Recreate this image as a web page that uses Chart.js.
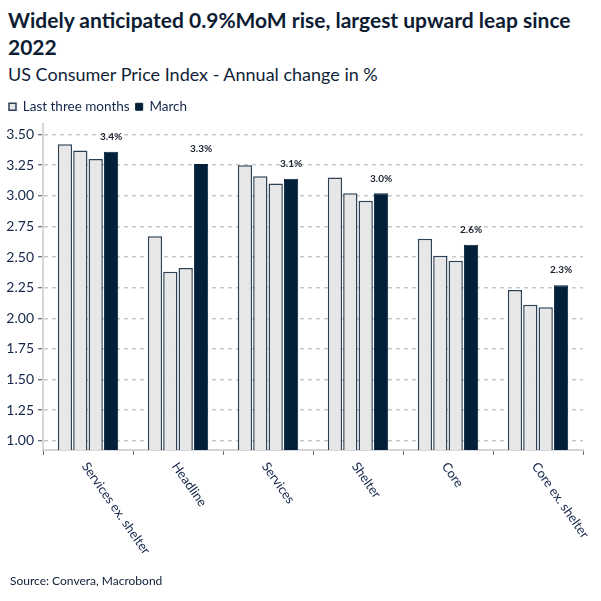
<!DOCTYPE html>
<html><head><meta charset="utf-8">
<script src="https://cdn.jsdelivr.net/npm/chart.js@4"></script>
<style>
html,body{margin:0;padding:0;background:#fff;}
body{width:601px;height:601px;position:relative;overflow:hidden;font-family:Lato,"Noto Sans",sans-serif;color:#0f1f38;}
#title{position:absolute;left:8px;top:7px;font-size:21px;font-weight:700;line-height:26.7px;white-space:nowrap;color:#0d1c33;}
#subtitle{position:absolute;left:8px;top:64px;font-size:18px;line-height:21.6px;white-space:nowrap;color:#0f1f38;}
#source{position:absolute;left:10px;top:573px;font-size:12px;line-height:15px;color:#0f1f38;white-space:nowrap;}
#wrap{position:absolute;left:0;top:93px;width:601px;height:508px;}
</style></head><body>
<div id="title">Widely anticipated 0.9%MoM rise, largest upward leap since<br>2022</div>
<div id="subtitle">US Consumer Price Index - Annual change in %</div>
<div id="wrap"><canvas id="c" width="601" height="508"></canvas></div>
<div id="source">Source: Convera, Macrobond</div>
<script>
// ---- data ----
const categories = ['Services ex. shelter', 'Headline', 'Services', 'Shelter', 'Core', 'Core ex. shelter'];
const month1 = [3.42, 2.67, 3.25, 3.15, 2.65, 2.23];
const month2 = [3.37, 2.38, 3.16, 3.02, 2.51, 2.11];
const month3 = [3.30, 2.41, 3.10, 2.96, 2.47, 2.09];
const march  = [3.36, 3.26, 3.14, 3.02, 2.60, 2.27];
const yTicks = [1.00, 1.25, 1.50, 1.75, 2.00, 2.25, 2.50, 2.75, 3.00, 3.25, 3.50];

const FONT = 'Lato, "Noto Sans", sans-serif';
const TXT = '#14264a';
const lightFill = '#e7e7e7', lightBorder = '#2d4157', darkFill = '#03203b';

const xLabelPlugin = {
  id: 'xLabels',
  afterDraw(chart) {
    const ctx = chart.ctx, xs = chart.scales.x;
    ctx.save();
    ctx.font = '13px ' + FONT;
    ctx.fillStyle = TXT;
    ctx.textAlign = 'left';
    ctx.textBaseline = 'top';
    categories.forEach((c, i) => {
      const x = xs.getPixelForValue(i);
      ctx.save();
      ctx.translate(x + 2, xs.top + 10);
      ctx.rotate(55 * Math.PI / 180);
      ctx.fillText(c, 0, 0);
      ctx.restore();
    });
    ctx.restore();
  }
};
const valueLabelPlugin = {
  id: 'valueLabels',
  afterDatasetsDraw(chart) {
    const ctx = chart.ctx;
    const meta = chart.getDatasetMeta(3);
    ctx.save();
    ctx.font = 'bold 10px ' + FONT;
    ctx.fillStyle = '#1a2030';
    ctx.textAlign = 'center';
    ctx.textBaseline = 'middle';
    meta.data.forEach((bar, i) => {
      ctx.fillText(march[i].toFixed(1) + '%', bar.x, bar.y - 15);
    });
    ctx.restore();
  }
};

const barCommon = { backgroundColor: lightFill, borderColor: lightBorder, borderWidth: 1.5 };

new Chart(document.getElementById('c'), {
  type: 'bar',
  data: {
    labels: categories,
    datasets: [
      Object.assign({ label: 'Last three months', data: month1 }, barCommon),
      Object.assign({ label: 'Last three months', data: month2 }, barCommon),
      Object.assign({ label: 'Last three months', data: month3 }, barCommon),
      { label: 'March', data: march, backgroundColor: darkFill, borderColor: darkFill, borderWidth: 1 }
    ]
  },
  options: {
    responsive: false,
    animation: false,
    devicePixelRatio: 1,
    categoryPercentage: 0.683,
    barPercentage: 0.93,
    layout: { padding: { left: 3, right: 18, top: 1, bottom: 0 } },
    plugins: {
      tooltip: { enabled: false },
      legend: {
        position: 'top',
        align: 'start',
        labels: {
          filter: (item) => item.datasetIndex === 0 || item.datasetIndex === 3,
          boxWidth: 7, boxHeight: 7, padding: 6,
          font: { size: 13.5, family: FONT }, color: TXT
        }
      }
    },
    scales: {
      x: {
        grid: { display: true, drawOnChartArea: false, drawTicks: true, tickLength: 5, tickColor: '#6b6b6b', tickWidth: 1, offset: true },
        border: { display: true, color: '#d6d6d6', width: 2 },
        ticks: { display: false },
        afterFit(s) { s.height = 151; }
      },
      y: {
        min: 0.925, max: 3.59,
        afterBuildTicks(s) { s.ticks = yTicks.map(v => ({ value: v })); },
        ticks: { callback: v => Number(v).toFixed(2), color: TXT, font: { size: 14, family: FONT }, padding: 4 },
        grid: { color: '#c8c8c8', lineWidth: 1.5, tickLength: 5, tickColor: '#3b4a5e', tickWidth: 1, drawTicks: true },
        border: { display: true, color: '#d6d6d6', width: 2, dash: [4, 4] },
        afterFit(s) { s.width = 40; }
      }
    }
  },
  plugins: [xLabelPlugin, valueLabelPlugin]
});
</script>
</body></html>
